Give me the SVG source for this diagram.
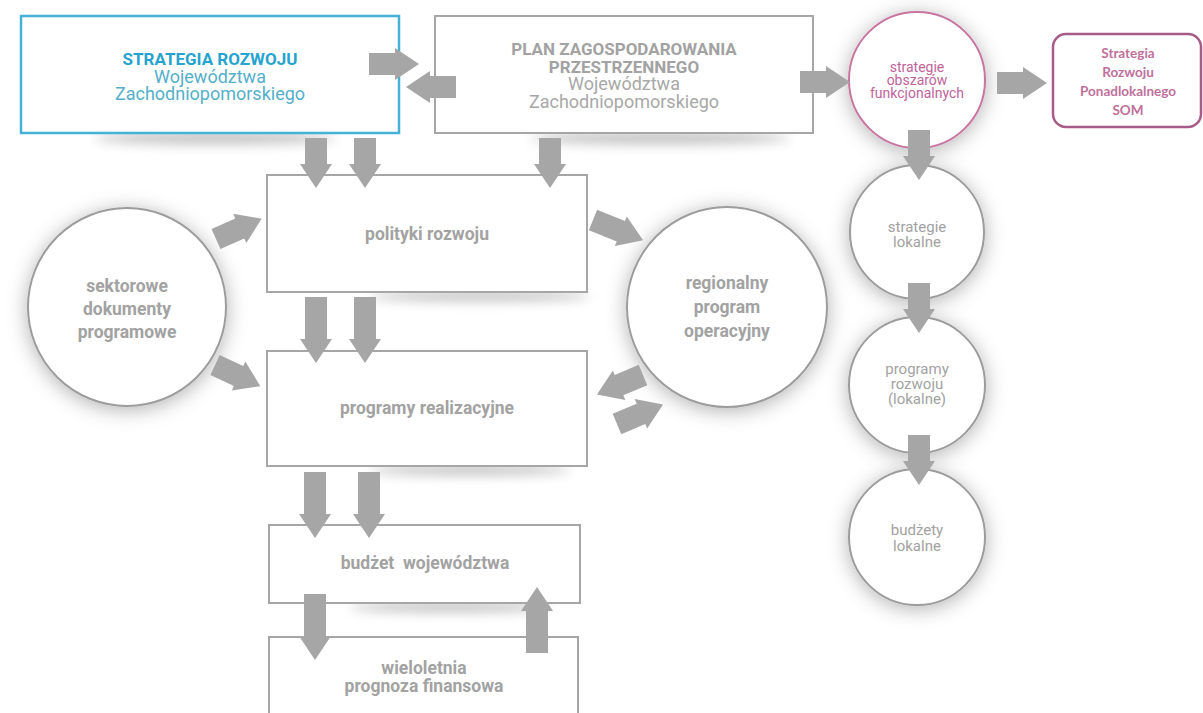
<svg xmlns="http://www.w3.org/2000/svg" xmlns:xlink="http://www.w3.org/1999/xlink" width="1203" height="713" viewBox="0 0 1203 713">
<style>
.box{fill:#fff;stroke:#a6a6a6;stroke-width:2}
.circ{fill:#fff;stroke:#9c9c9c;stroke-width:2}
.arr{fill:#a6a6a6}
.gb{font-family:Roboto,"Liberation Sans",sans-serif;font-weight:700;font-size:17.5px;fill:#a2a2a2;text-anchor:middle}
.gr{font-family:Roboto,"Liberation Sans",sans-serif;font-weight:400;font-size:15px;fill:#a2a2a2;text-anchor:middle}
.plb{font-family:Roboto,"Liberation Sans",sans-serif;font-weight:700;font-size:17px;fill:#a2a2a2;text-anchor:middle}
.plr{font-family:Roboto,"Liberation Sans",sans-serif;font-weight:400;font-size:18px;fill:#a8a8a8;text-anchor:middle}
.cyb{font-family:Roboto,"Liberation Sans",sans-serif;font-weight:700;font-size:17px;fill:#26a3cf;text-anchor:middle}
.cyr{font-family:Roboto,"Liberation Sans",sans-serif;font-weight:400;font-size:18px;fill:#55afc9;text-anchor:middle}
.pk{font-family:Roboto,"Liberation Sans",sans-serif;font-weight:400;font-size:14px;fill:#c0649a;text-anchor:middle}
.pkb{font-family:Lato,"Liberation Sans",sans-serif;font-weight:700;font-size:13.5px;fill:#c0709b;text-anchor:middle}
.sh{fill:#8a8a8a;opacity:0.55}
</style>
<defs>
<filter id="glow" x="-40%" y="-40%" width="180%" height="180%"><feDropShadow dx="0" dy="3" stdDeviation="10" flood-color="#000" flood-opacity="0.3"/></filter>
<filter id="blur" x="-50%" y="-300%" width="200%" height="700%"><feGaussianBlur stdDeviation="6"/></filter>
<path id="a50" d="M0,-11H26V-16L50,0L26,16V11H0Z"/>
<path id="a54" d="M0,-11H30V-16L54,0L30,16V11H0Z"/>
<path id="a66" d="M0,-11H42V-16L66,0L42,16V11H0Z"/>
</defs>
<rect width="1203" height="713" fill="#fff"/>

<g id="strategia">
<ellipse class="sh" cx="215" cy="138" rx="120" ry="6" filter="url(#blur)"/>
<rect x="21" y="16" width="378" height="117" fill="#fff" stroke="#44b2d6" stroke-width="2.5"/>
<text class="cyb" x="210" y="65">STRATEGIA ROZWOJU</text>
<text class="cyr" x="210" y="83">Województwa</text>
<text class="cyr" x="210" y="100">Zachodniopomorskiego</text>
</g>

<g id="plan">
<ellipse class="sh" cx="660" cy="138" rx="130" ry="6" filter="url(#blur)"/>
<rect class="box" x="435" y="16" width="378" height="117"/>
<text class="plb" x="624" y="55">PLAN ZAGOSPODAROWANIA</text>
<text class="plb" x="624" y="73">PRZESTRZENNEGO</text>
<text class="plr" x="624" y="90">Województwa</text>
<text class="plr" x="624" y="108">Zachodniopomorskiego</text>
</g>

<g id="obszary">
<circle cx="917" cy="80" r="68" fill="#fff" stroke="#c8759f" stroke-width="2" filter="url(#glow)"/>
<text class="pk" x="917" y="72">strategie</text>
<text class="pk" x="917" y="85">obszarów</text>
<text class="pk" x="917" y="98">funkcjonalnych</text>
</g>

<g id="som">
<rect x="1053" y="34" width="148" height="93" rx="13" fill="#fff" stroke="#a65c86" stroke-width="2.5"/>
<text class="pkb" x="1128" y="58">Strategia</text>
<text class="pkb" x="1128" y="77">Rozwoju</text>
<text class="pkb" x="1128" y="96">Ponadlokalnego</text>
<text class="pkb" x="1128" y="115">SOM</text>
</g>

<g id="polityki">
<ellipse class="sh" cx="480" cy="296" rx="110" ry="5" filter="url(#blur)"/>
<rect class="box" x="267" y="175" width="320" height="117"/>
<text class="gb" x="427" y="240">polityki rozwoju</text>
</g>

<g id="sektorowe">
<circle class="circ" cx="127" cy="307" r="99" filter="url(#glow)"/>
<text class="gb" x="127" y="292">sektorowe</text>
<text class="gb" x="127" y="315">dokumenty</text>
<text class="gb" x="127" y="338">programowe</text>
</g>

<g id="regionalny">
<circle class="circ" cx="727" cy="307" r="100" filter="url(#glow)"/>
<text class="gb" x="727" y="289">regionalny</text>
<text class="gb" x="727" y="313">program</text>
<text class="gb" x="727" y="337">operacyjny</text>
</g>

<g id="programy">
<ellipse class="sh" cx="470" cy="470" rx="100" ry="5" filter="url(#blur)"/>
<rect class="box" x="267" y="351" width="320" height="115"/>
<text class="gb" x="427" y="414">programy realizacyjne</text>
</g>

<g id="budzet">
<ellipse class="sh" cx="450" cy="607" rx="100" ry="5" filter="url(#blur)"/>
<rect class="box" x="269" y="525" width="311" height="78"/>
<text class="gb" x="425" y="569" xml:space="preserve">budżet  województwa</text>
</g>

<g id="wieloletnia">
<rect class="box" x="269" y="637" width="309" height="90"/>
<text class="gb" x="424" y="674">wieloletnia</text>
<text class="gb" x="424" y="692">prognoza finansowa</text>
</g>

<g id="strategie-lokalne">
<circle class="circ" cx="917" cy="232" r="67" filter="url(#glow)"/>
<text class="gr" x="917" y="232">strategie</text>
<text class="gr" x="917" y="247">lokalne</text>
</g>

<g id="programy-rozwoju">
<circle class="circ" cx="917" cy="385" r="68" filter="url(#glow)"/>
<text class="gr" x="917" y="374">programy</text>
<text class="gr" x="917" y="389">rozwoju</text>
<text class="gr" x="917" y="404">(lokalne)</text>
</g>

<g id="budzety-lokalne">
<circle class="circ" cx="917" cy="537" r="68" filter="url(#glow)"/>
<text class="gr" x="917" y="535">budżety</text>
<text class="gr" x="917" y="551">lokalne</text>
</g>

<g id="connectors" class="arr">
<use xlink:href="#a50" transform="translate(316,138) rotate(90)"/>
<use xlink:href="#a50" transform="translate(365,138) rotate(90)"/>
<use xlink:href="#a50" transform="translate(550,138) rotate(90)"/>
<use xlink:href="#a66" transform="translate(316,297) rotate(90)"/>
<use xlink:href="#a66" transform="translate(365,297) rotate(90)"/>
<use xlink:href="#a66" transform="translate(315,472) rotate(90)"/>
<use xlink:href="#a66" transform="translate(369,472) rotate(90)"/>
<use xlink:href="#a66" transform="translate(315,594) rotate(90)"/>
<use xlink:href="#a66" transform="translate(537,653) rotate(-90)"/>
<use xlink:href="#a50" transform="translate(369,64)"/>
<use xlink:href="#a50" transform="translate(456,87) rotate(180)"/>
<use xlink:href="#a50" transform="translate(800,82)"/>
<use xlink:href="#a50" transform="translate(997,83)"/>
<use xlink:href="#a50" transform="translate(919,130) rotate(90)"/>
<use xlink:href="#a50" transform="translate(919,283) rotate(90)"/>
<use xlink:href="#a50" transform="translate(919,435) rotate(90)"/>
<use xlink:href="#a50" transform="translate(216,239) rotate(-24)"/>
<use xlink:href="#a50" transform="translate(215,365) rotate(25)"/>
<use xlink:href="#a54" transform="translate(593,220) rotate(22)"/>
<use xlink:href="#a50" transform="translate(643,375) rotate(157)"/>
<use xlink:href="#a50" transform="translate(617,424) rotate(-23)"/>
</g>
</svg>
